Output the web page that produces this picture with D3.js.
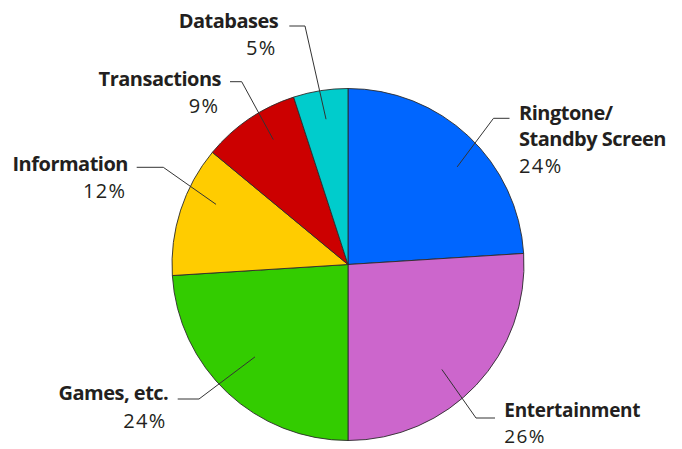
<!DOCTYPE html>
<html>
<head>
<meta charset="utf-8">
<script src="https://cdn.jsdelivr.net/npm/d3@7"></script>
<style>
  html, body { margin: 0; padding: 0; background: #fff; }
  svg { display: block; }
  text { font-family: "Open Sans", Lato, sans-serif; fill: #231f20; font-variant-ligatures: none; }
</style>
</head>
<body>
<svg id="chart" width="682" height="449"></svg>
<script>
// ---- data ----
const categories = ["Ringtone/\nStandby Screen", "Entertainment", "Games, etc.", "Information", "Transactions", "Databases"];
const values = [24, 26, 24, 12, 9, 5];
const colors = ["#0066ff", "#cc66cc", "#33cc00", "#ffcc00", "#cc0000", "#00cccc"];

// ---- layout (label placement) ----
const labelLayout = [
  { side: "right", da: 5.0, rf: 0.832, elbowX: 493.5, endX: 509.5, lineY: 118.3, textX: 519,   base: 120,   gap: 26.3, fs: 20, ls: -0.5 },
  { side: "right", da: 5.0, rf: 0.80,  elbowX: 476,   endX: 495,   lineY: 418,   textX: 504.3, base: 417,   gap: 26,   fs: 19, ls: -0.3 },
  { side: "left",  da: 2.0, rf: 0.745, elbowX: 199,   endX: 177.7, lineY: 399,   textX: 168.3, base: 400,   gap: 28,   fs: 20, ls: -0.5 },
  { side: "left",  da: 6.5, rf: 0.824, elbowX: 163.3, endX: 136.7, lineY: 167.3, textX: 128,   base: 170.5, gap: 27.6, fs: 20, ls: -0.5 },
  { side: "left",  da: 3.3, rf: 0.827, elbowX: 241.7, endX: 230,   lineY: 81.7,  textX: 221,   base: 85.8,  gap: 26.8, fs: 20, ls: -0.5 },
  { side: "left",  da: 0.4, rf: 0.835, elbowX: 305,   endX: 289.3, lineY: 26,    textX: 278.3, base: 27.5,  gap: 27.6, fs: 20, ls: -0.5 }
];

const cx = 348, cy = 264.5, R = 176;
const svg = d3.select("#chart");
const g = svg.append("g").attr("transform", `translate(${cx},${cy})`);

const pie = d3.pie().sort(null).value(d => d)(values);
const arc = d3.arc().innerRadius(0).outerRadius(R);

g.selectAll("path.slice")
  .data(pie)
  .join("path")
  .attr("class", "slice")
  .attr("d", arc)
  .attr("fill", (d, i) => colors[i])
  .attr("stroke", "#2b2b2b")
  .attr("stroke-width", 0.9)
  .attr("stroke-linejoin", "round");

// leader lines + labels
pie.forEach((d, i) => {
  const L = labelLayout[i];
  const a = (d.startAngle + d.endAngle) / 2 + L.da * Math.PI / 180;
  const r = L.rf * R;
  const px = cx + r * Math.sin(a), py = cy - r * Math.cos(a);
  svg.append("polyline")
    .attr("points", `${px},${py} ${L.elbowX},${L.lineY} ${L.endX},${L.lineY}`)
    .attr("fill", "none")
    .attr("stroke", "#333")
    .attr("stroke-width", 1);

  const anchor = L.side === "right" ? "start" : "end";
  const lines = categories[i].split("\n");
  const t = svg.append("text")
    .attr("text-anchor", anchor)
    .attr("font-size", L.fs);
  lines.forEach((ln, k) => {
    t.append("tspan")
      .attr("x", L.textX)
      .attr("y", L.base + k * L.gap)
      .attr("font-weight", 700)
      .attr("letter-spacing", L.ls)
      .text(ln);
  });
  t.append("tspan")
    .attr("x", L.textX - (L.side === "left" ? 1.5 : 0))
    .attr("y", L.base + lines.length * L.gap)
    .attr("font-weight", 400)
    .attr("letter-spacing", 1.4)
    .text(d3.format(".0f")(values[i]) + "%");
});
</script>
</body>
</html>
